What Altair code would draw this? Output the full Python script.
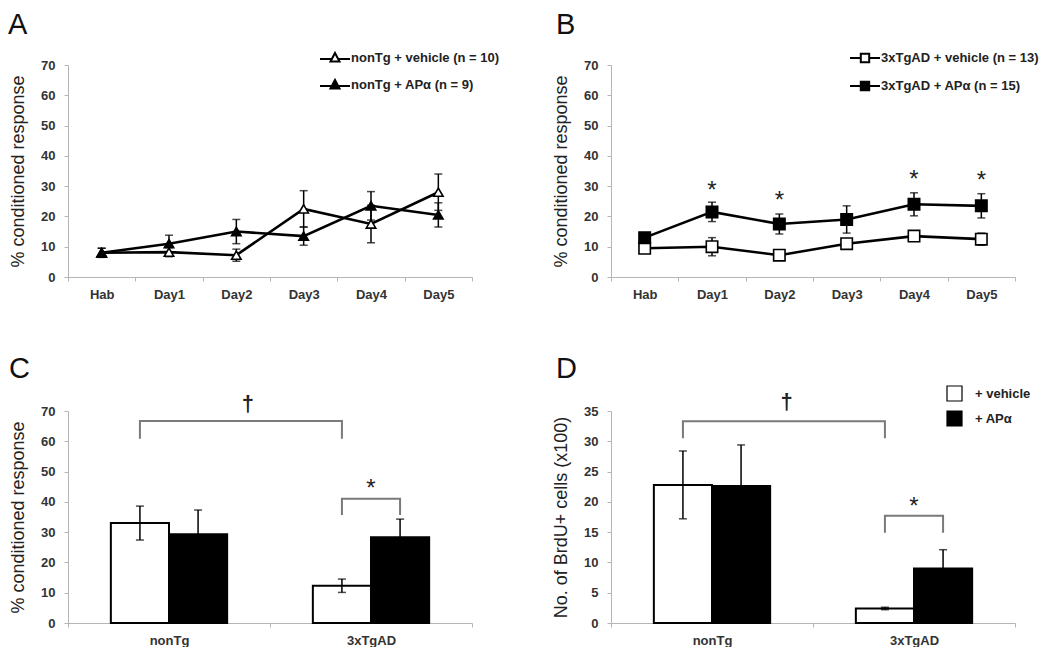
import altair as alt
import pandas as pd

FONT = "Liberation Sans"

# ---------------- data ----------------
days = ["Hab", "Day1", "Day2", "Day3", "Day4", "Day5"]
letters = ["A", "B", "C", "D"]

# Panel A
a_series = ["nonTg + vehicle (n = 10)", "nonTg + APα (n = 9)"]
a_vehicle = [8.0, 8.2, 7.2, 22.5, 17.5, 28.0]
a_vehicle_err = [1.5, 1.5, 2.0, 6.0, 6.2, 6.0]
a_apa = [8.0, 11.0, 15.0, 13.5, 23.5, 20.5]
a_apa_err = [1.5, 2.8, 4.0, 3.0, 4.7, 4.0]

# Panel B
b_series = ["3xTgAD + vehicle (n = 13)", "3xTgAD + APα (n = 15)"]
b_vehicle = [9.5, 10.0, 7.2, 11.0, 13.5, 12.5]
b_vehicle_err = [1.0, 3.0, 1.0, 1.5, 1.5, 2.0]
b_apa = [13.0, 21.5, 17.5, 19.0, 24.0, 23.5]
b_apa_err = [1.2, 3.2, 3.3, 4.5, 3.8, 4.0]
b_star_days = ["Day1", "Day2", "Day4", "Day5"]
b_star_y = [30.5, 27.2, 34.0, 33.7]

# Panels C and D
groups = ["nonTg", "3xTgAD"]
treatments = ["+ vehicle", "+ APα"]
c_vehicle = [33.0, 12.3]
c_vehicle_err = [5.6, 2.2]
c_apa = [29.3, 28.3]
c_apa_err = [8.0, 6.0]
c_dagger_bracket = [60.8, 66.7]
c_star_bracket = [35.7, 41.0]
c_dagger_y = 72.3
c_star_y = 46.2

d_vehicle = [22.8, 2.4]
d_vehicle_err = [5.6, 0.2]
d_apa = [22.6, 9.0]
d_apa_err = [6.8, 3.1]
d_dagger_bracket = [30.5, 33.3]
d_star_bracket = [14.9, 17.7]
d_dagger_y = 36.5
d_star_y = 20.2

W, H = 404, 212
LABEL_STYLE = dict(labelFont=FONT, labelFontSize=13, labelFontWeight="bold", labelColor="#333")
AX_COMMON = dict(grid=False, domainColor="#b5b5b5", tickColor="#b5b5b5", tickSize=4,
                 titleFont=FONT, titleFontSize=18, titleFontWeight="normal", titleColor="#222",
                 **LABEL_STYLE)


def y_axis(title, values):
    return alt.Axis(title=title, values=values, labelPadding=9, titlePadding=13, **AX_COMMON)


def x_axis():
    return alt.Axis(title=None, labelAngle=0, labelPadding=7, tickBand="extent", **AX_COMMON)


def letter_layer(letter, dx, dy):
    return alt.Chart(pd.DataFrame({"letter": [letter]})).mark_text(
        align="left", baseline="alphabetic", font=FONT, fontSize=29, color="#111", x=dx, y=dy
    ).encode(text="letter:N")


# ---------------- line panels ----------------
def line_panel(series, vals, errs, shape, size, legend_path, legend_x, yvals, title, letter,
               star_days=None, star_y=None, letter_dx=-60):
    rows = []
    for s, v, e in zip(series, vals, errs):
        for d, vv, ee in zip(days, v, e):
            rows.append({"day": d, "series": s, "value": vv, "lo": vv - ee, "hi": vv + ee})
    df = pd.DataFrame(rows)
    xenc = alt.X("day:N", scale=alt.Scale(type="band", domain=days, paddingInner=0, paddingOuter=0),
                 bandPosition=0.5, axis=x_axis())
    yscale = alt.Scale(domain=[0, 70], nice=False)
    yax = y_axis(title, yvals)

    def Y(field):
        return alt.Y(field, scale=yscale, axis=yax)

    base = alt.Chart(df)
    lines = base.mark_line(color="black", strokeWidth=2.6).encode(x=xenc, y=Y("value:Q"), detail="series:N")
    rule = base.mark_rule(color="black", strokeWidth=1.5).encode(x=xenc, y=Y("lo:Q"), y2="hi:Q")
    cap_hi = base.mark_tick(color="black", size=8, thickness=1.5).encode(x=xenc, y=Y("hi:Q"))
    cap_lo = base.mark_tick(color="black", size=8, thickness=1.5).encode(x=xenc, y=Y("lo:Q"))
    pts = base.mark_point(shape=shape, filled=True, stroke="black", strokeWidth=1.6, size=size, opacity=1).encode(
        x=xenc, y=Y("value:Q"),
        fill=alt.Fill("series:N", scale=alt.Scale(domain=series, range=["white", "black"]),
                      legend=alt.Legend(title=None, orient="none", legendX=legend_x, legendY=-18,
                                        symbolType=legend_path, symbolSize=400,
                                        symbolStrokeColor="black", symbolStrokeWidth=2,
                                        labelFont=FONT, labelFontSize=13, labelFontWeight="bold",
                                        labelColor="#222", labelOffset=5, rowPadding=8,
                                        padding=0, labelLimit=400)),
    )
    layers = [lines, rule, cap_hi, cap_lo, pts]
    if star_days:
        sdf = pd.DataFrame({"day": star_days, "y": star_y, "sym": ["*"] * len(star_days)})
        layers.append(alt.Chart(sdf).mark_text(font=FONT, fontSize=24, baseline="middle", dy=6,
                                               color="#222").encode(
            x=xenc, y=Y("y:Q"), text="sym:N"))
    layers.append(letter_layer(letter, letter_dx, -31))
    return alt.layer(*layers).properties(width=W, height=H)


tri_path = "M-1.5,0.1H-0.3M0.3,0.1H1.5M0,-0.5L0.45,0.35L-0.45,0.35Z"
sq_path = "M-1.5,0H-0.42M0.42,0H1.5M-0.42,-0.42H0.42V0.42H-0.42Z"

panel_a = line_panel(a_series, [a_vehicle, a_apa], [a_vehicle_err, a_apa_err], "triangle-up", 90,
                     tri_path, 256, list(range(0, 71, 10)), "% conditioned response", "A")
panel_b = line_panel(b_series, [b_vehicle, b_apa], [b_vehicle_err, b_apa_err], "square", 130,
                     sq_path, 243, list(range(0, 71, 10)), "% conditioned response", "B",
                     b_star_days, b_star_y, letter_dx=-55)


# ---------------- bar panels ----------------
def bar_panel(veh, veh_err, apa, apa_err, ymax, yvals, title, dagger_br, star_br, dagger_y, star_y,
              dagger_pos, letter, letter_dx, legend):
    rows = []
    for t, v, e in zip(treatments, [veh, apa], [veh_err, apa_err]):
        for g, vv, ee in zip(groups, v, e):
            rows.append({"group": g, "treatment": t, "value": vv, "lo": vv - ee, "hi": vv + ee})
    df = pd.DataFrame(rows)
    xscale = alt.Scale(domain=groups, paddingInner=0, paddingOuter=0)
    xenc = alt.X("group:N", scale=xscale, axis=x_axis())
    xoff = alt.XOffset("treatment:N", scale=alt.Scale(domain=treatments, paddingInner=0, paddingOuter=0.737))
    yscale = alt.Scale(domain=[0, ymax], nice=False)
    yax = y_axis(title, yvals)

    def Y(field):
        return alt.Y(field, scale=yscale, axis=yax)

    base = alt.Chart(df)
    if legend:
        leg = alt.Legend(title=None, orient="none", legendX=335, legendY=-26, symbolType="square",
                         symbolSize=225, symbolStrokeColor="black", symbolStrokeWidth=1.2,
                         labelFont=FONT, labelFontSize=13, labelFontWeight="bold", labelColor="#222",
                         labelOffset=12, rowPadding=4, padding=0)
    else:
        leg = None
    bars = base.mark_bar(stroke="black", strokeWidth=2).encode(
        x=xenc, xOffset=xoff, y=Y("value:Q"),
        fill=alt.Fill("treatment:N", scale=alt.Scale(domain=treatments, range=["white", "black"]), legend=leg),
    )
    rule = base.mark_rule(color="black", strokeWidth=1.5).encode(x=xenc, xOffset=xoff, y=Y("lo:Q"), y2="hi:Q")
    cap_hi = base.mark_tick(color="black", size=8, thickness=1.5).encode(x=xenc, xOffset=xoff, y=Y("hi:Q"))
    cap_lo = base.mark_tick(color="black", size=8, thickness=1.5).encode(x=xenc, xOffset=xoff, y=Y("lo:Q"))

    br_rows = []
    pairs = [("dagger", [(groups[0], treatments[0]), (groups[1], treatments[0])], dagger_br),
             ("star", [(groups[1], treatments[0]), (groups[1], treatments[1])], star_br)]
    for name, ends, (low, top) in pairs:
        pts = [(ends[0], low), (ends[0], top), (ends[1], top), (ends[1], low)]
        for i, ((g, t), yy) in enumerate(pts):
            br_rows.append({"br": name, "group": g, "treatment": t, "y": yy, "ord": i})
    brdf = pd.DataFrame(br_rows)
    brackets = alt.Chart(brdf).mark_line(color="#7a7a7a", strokeWidth=2).encode(
        x=xenc, xOffset=xoff, y=Y("y:Q"), detail="br:N", order="ord:Q")

    ddf = pd.DataFrame({"group": [groups[0]], "y": [dagger_y], "sym": ["†"]})
    dag = alt.Chart(ddf).mark_text(font=FONT, fontSize=22, fontWeight="bold", baseline="middle",
                                   color="#222").encode(
        x=alt.X("group:N", scale=xscale, bandPosition=dagger_pos), y=Y("y:Q"), text="sym:N")
    sdf = pd.DataFrame({"group": [groups[1]], "y": [star_y], "sym": ["*"]})
    star = alt.Chart(sdf).mark_text(font=FONT, fontSize=24, baseline="middle", dy=6, color="#222").encode(
        x=alt.X("group:N", scale=xscale, bandPosition=0.5), y=Y("y:Q"), text="sym:N")
    return alt.layer(bars, rule, cap_hi, cap_lo, brackets, dag, star,
                     letter_layer(letter, letter_dx, -33)).properties(width=W, height=H)


panel_c = bar_panel(c_vehicle, c_vehicle_err, c_apa, c_apa_err, 70, list(range(0, 71, 10)),
                    "% conditioned response", c_dagger_bracket, c_star_bracket, c_dagger_y, c_star_y,
                    0.89, "C", -59, False)
panel_d = bar_panel(d_vehicle, d_vehicle_err, d_apa, d_apa_err, 35, list(range(0, 36, 5)),
                    "No. of BrdU+ cells (x100)", d_dagger_bracket, d_star_bracket, d_dagger_y, d_star_y,
                    0.87, "D", -55, True)

chart = alt.concat(panel_a, panel_b, panel_c, panel_d, columns=2,
                   spacing={"row": 134, "column": 139}, bounds="flush").resolve_scale(
    x="independent", y="independent", fill="independent", xOffset="independent"
).resolve_legend(fill="independent").properties(
    padding={"top": 3, "left": 0, "right": 0, "bottom": 0}, background="white"
).configure_view(stroke=None)

chart.save("out.html", embed_options={"renderer": "svg", "actions": False})
